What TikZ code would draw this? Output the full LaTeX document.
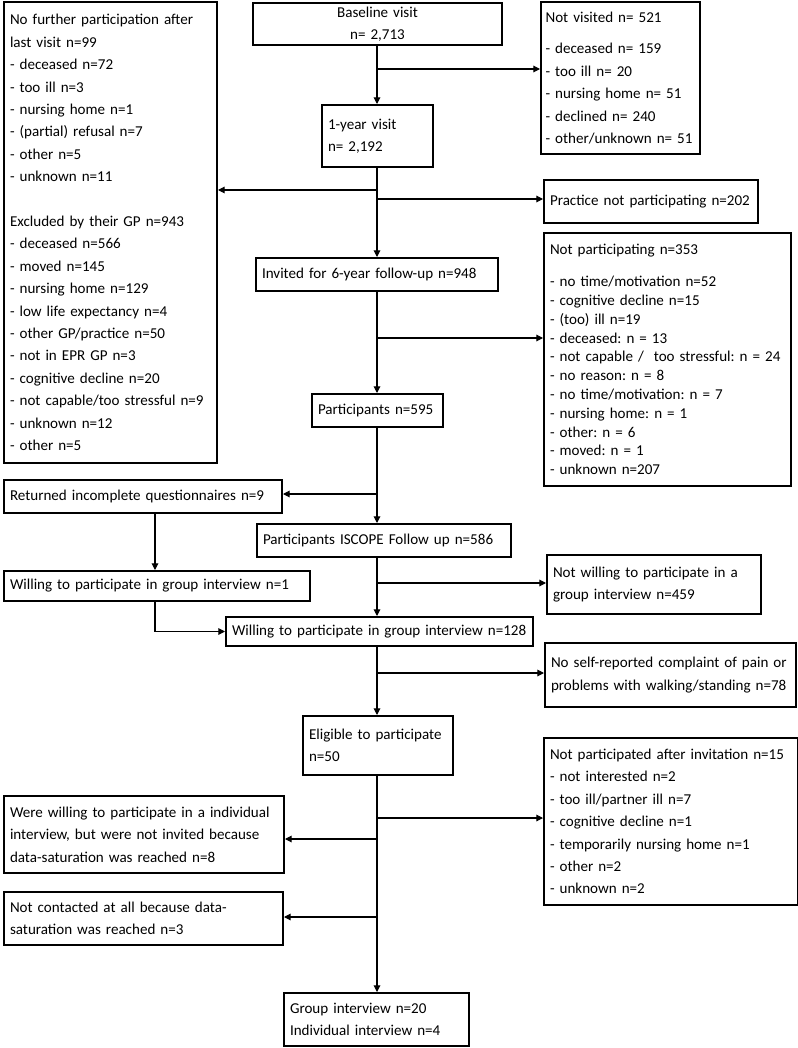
\documentclass[tikz,border=0pt]{standalone}
\usepackage{fontspec}
\setmainfont{Carlito}
\usetikzlibrary{arrows.meta}

\tikzset{
  flowbox/.style 2 args={draw, line width=1.5pt, anchor=north west, align=left,
    inner xsep=4.5pt, inner ysep=0pt, text width={(#1-12)*0.75pt},
    minimum height={#2*0.75pt}, font=\fontsize{11.3}{16.8}\selectfont\frenchspacing},
  link/.style={line width=0.8pt},
}

\begin{document}
\begin{tikzpicture}[>={Triangle[length=5pt,width=5pt]}, x=0.75pt, y=-0.75pt]
  \useasboundingbox (0,0) rectangle (798,1048);

  % Main column
  \node[flowbox={249}{42}, align=center] (base) at (252,2) {Baseline visit\\n= 2,713};
  \node[flowbox={111}{62}] (year1) at (321,104) {1-year visit\\n= 2,192};
  \node[flowbox={242}{33}] (invited) at (255,257) {Invited for 6-year follow-up n=948};
  \node[flowbox={131}{33}] (partic) at (311,393) {Participants n=595};
  \node[flowbox={254}{33}] (iscope) at (256,523) {Participants ISCOPE Follow up n=586};
  \node[flowbox={307}{29}] (willgrp) at (225,616) {Willing to participate in group interview n=128};
  \node[flowbox={150}{59}] (eligible) at (302,715) {Eligible to participate\\n=50};
  \node[flowbox={185}{53}] (group) at (283,992) {Group interview n=20\\Individual interview n=4};

  % Left column
  \node[flowbox={213}{461}] (nofurther) at (3,1) {No further participation after\\last visit n=99\\- deceased n=72\\- too ill n=3\\- nursing home n=1\\- (partial) refusal n=7\\- other n=5\\- unknown n=11\\[16.8pt]Excluded by their GP n=943\\- deceased n=566\\- moved n=145\\- nursing home n=129\\- low life expectancy n=4\\- other GP/practice n=50\\- not in EPR GP n=3\\- cognitive decline n=20\\- not capable/too stressful n=9\\- unknown n=12\\- other n=5};
  \node[flowbox={278}{33}] (returned) at (3,479) {Returned incomplete questionnaires n=9};
  \node[flowbox={306}{30}] (willone) at (3,570) {Willing to participate in group interview n=1};
  \node[flowbox={280}{77}] (werewill) at (3,795) {Were willing to participate in a individual\\interview, but were not invited because\\data-saturation was reached n=8};
  \node[flowbox={279}{53}] (notcont) at (3,891) {Not contacted at all because data-\\saturation was reached n=3};

  % Right column
  \node[flowbox={159}{152}, inner xsep=3.4pt, text width=112.5pt] (notvis) at (540,1) {Not visited n= 521\\[7pt]- deceased n= 159\\- too ill n= 20\\- nursing home n= 51\\- declined n= 240\\- other/unknown n= 51};
  \node[flowbox={214}{43}] (practice) at (543,179) {Practice not participating n=202};
  \node[flowbox={247}{253}, font=\fontsize{11.3}{14.1}\selectfont\frenchspacing] (notpart) at (543,232) {Not participating n=353\\[10pt]- no time/motivation n=52\\- cognitive decline n=15\\- (too) ill n=19\\- deceased: n = 13\\- not capable /\ \ too stressful: n = 24\\- no reason: n = 8\\- no time/motivation: n = 7\\- nursing home: n = 1\\- other: n = 6\\- moved: n = 1\\- unknown n=207};
  \node[flowbox={214}{59}] (notwill) at (546,554) {Not willing to participate in a\\group interview n=459};
  \node[flowbox={251}{64}] (noself) at (544,642) {No self-reported complaint of pain or\\problems with walking/standing n=78};
  \node[flowbox={254}{167}] (notinv) at (543,737) {Not participated after invitation n=15\\- not interested n=2\\- too ill/partner ill n=7\\- cognitive decline n=1\\- temporarily nursing home n=1\\- other n=2\\- unknown n=2};

  % Spine and junctions
  \coordinate (spine) at (377,0);
  \coordinate (side) at (155,0);
  \coordinate (j1) at (377,69);
  \coordinate (j2) at (377,190);
  \coordinate (j3) at (377,199);
  \coordinate (j4) at (377,338);
  \coordinate (j5) at (377,494);
  \coordinate (j6) at (377,583);
  \coordinate (j7) at (377,673);
  \coordinate (j8) at (377,818);
  \coordinate (j9) at (377,839);
  \coordinate (j10) at (377,917);

  % Vertical arrows
  \foreach \a/\b in {base/year1, year1/invited, invited/partic, partic/iscope,
                     iscope/willgrp, willgrp/eligible, eligible/group}
    \draw[link,->] (\a.south -| spine) -- (\b.north -| spine);

  % Branches to the right
  \foreach \j/\b in {j1/notvis, j3/practice, j4/notpart, j6/notwill, j7/noself, j8/notinv}
    \draw[link,->] (\j) -- (\j -| \b.west);

  % Branches to the left
  \foreach \j/\b in {j2/nofurther, j5/returned, j9/werewill, j10/notcont}
    \draw[link,->] (\j) -- (\j -| \b.east);

  % Late willing participant
  \draw[link,->] (returned.south -| side) -- (willone.north -| side);
  \draw[link,->] (willone.south -| side) |- (willgrp.west);
\end{tikzpicture}
\end{document}
